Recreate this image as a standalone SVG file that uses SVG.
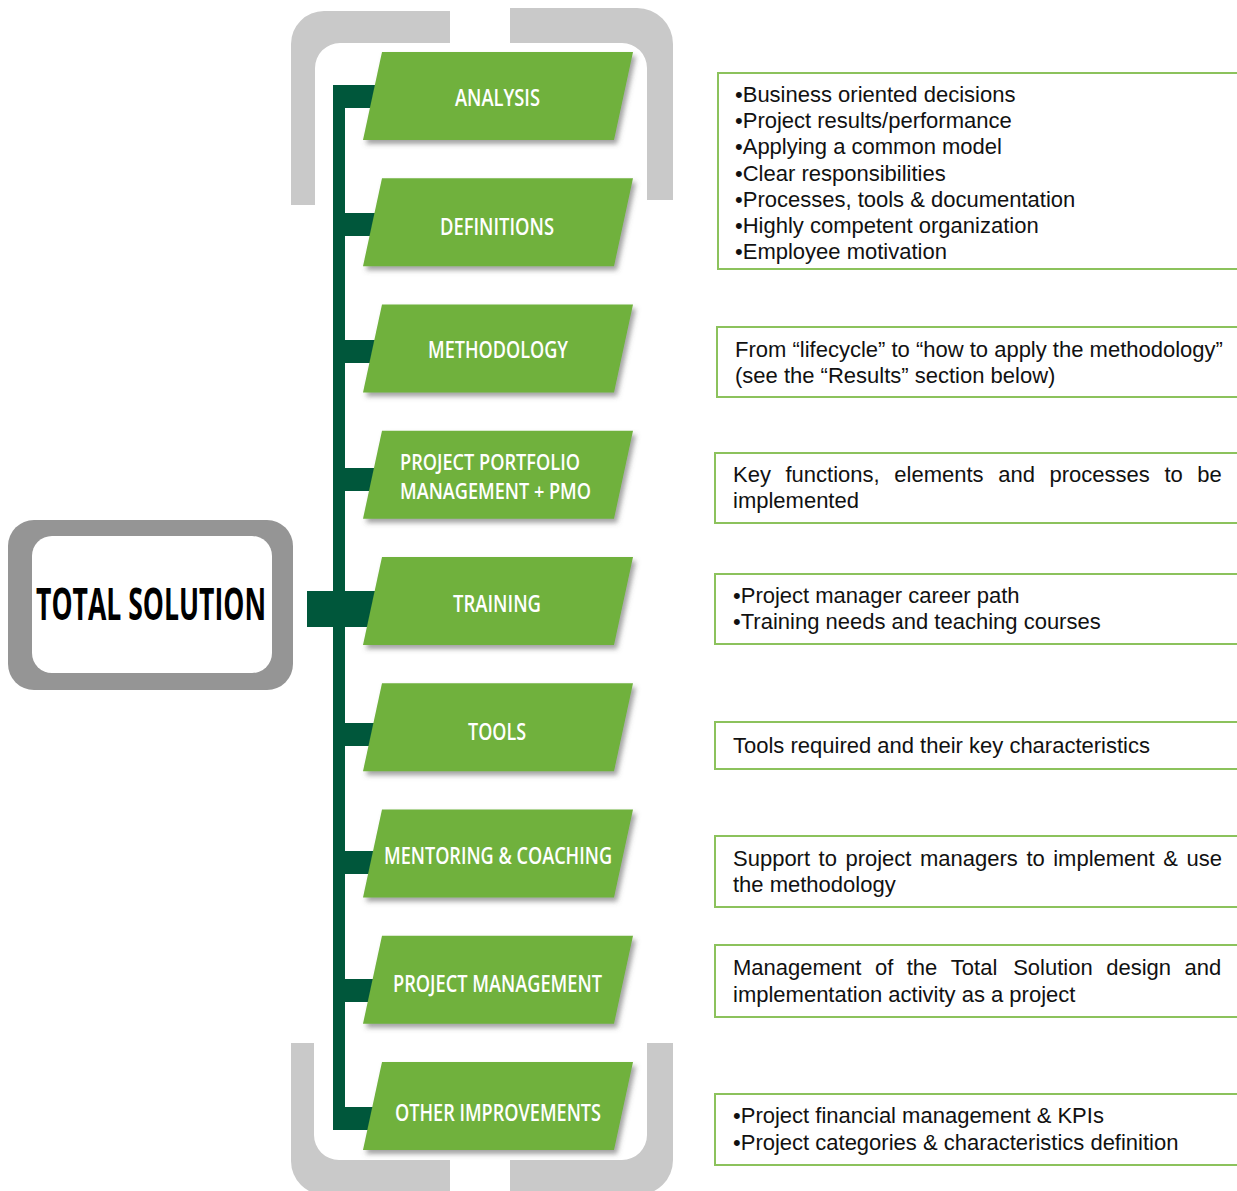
<svg xmlns="http://www.w3.org/2000/svg" width="1237" height="1191" viewBox="0 0 1237 1191">
  <style>
    .bracket { fill: #c9c9c9; }
    .stage { fill: #6fb13c; filter: url(#shade); }
    .stage-label { font-family: "Open Sans", "DejaVu Sans", sans-serif; font-weight: 600; font-size: 24px; fill: #ffffff; }
    .stage-label.small { font-size: 21px; }
    .link { fill: #00573b; }
    .note { fill: #ffffff; stroke: #8cc25c; stroke-width: 2; }
    .note-text { font-family: "Liberation Sans", Arial, sans-serif; font-size: 22px; fill: #111111; }
    .root-frame { fill: #959595; }
    .root-inner { fill: #ffffff; }
    .root-label { font-family: "Open Sans", "DejaVu Sans", sans-serif; font-weight: 700; font-size: 44px; fill: #000000; }
  </style>
  <defs>
    <filter id="shade" x="-10%" y="-20%" width="125%" height="150%">
      <feDropShadow dx="3" dy="4" stdDeviation="2.5" flood-color="#555555" flood-opacity="0.55"/>
    </filter>
    <!-- one parallelogram stage, 88 tall, skewed 19px -->
    <path id="stage-shape" d="M382 0 H633 L614 88 H363 Z"/>
  </defs>

  <rect width="1237" height="1191" fill="#ffffff"/>

  <!-- grey brackets framing the stage column -->
  <g id="frame">
    <path class="bracket" d="M291 205 V44 A33 33 0 0 1 324 11 H450 V43 H340 A25 25 0 0 0 315 68 V205 Z"/>
    <path class="bracket" d="M510 8 H637 A36 36 0 0 1 673 44 V200 H647 V68 A25 25 0 0 0 622 43 H510 Z"/>
    <path class="bracket" d="M291 1043 H314 V1135 A25 25 0 0 0 339 1160 H450 V1195 H325 A34 34 0 0 1 291 1161 Z"/>
    <path class="bracket" d="M647 1043 H673 V1160 A35 35 0 0 1 638 1195 H510 V1160 H622 A25 25 0 0 0 647 1135 Z"/>
  </g>

  <!-- spine and branch tabs -->
  <g id="connectors">
    <rect class="link" x="333" y="85" width="12" height="1045"/>
    <rect class="link" x="333" y="85" width="42" height="23"/>
    <rect class="link" x="333" y="213" width="42" height="23"/>
    <rect class="link" x="333" y="340" width="42" height="23"/>
    <rect class="link" x="333" y="468" width="42" height="23"/>
    <rect class="link" x="307" y="591" width="68" height="36"/>
    <rect class="link" x="333" y="723" width="42" height="23"/>
    <rect class="link" x="333" y="851" width="42" height="23"/>
    <rect class="link" x="333" y="979" width="42" height="23"/>
    <rect class="link" x="333" y="1107" width="42" height="23"/>
  </g>

  <!-- root node -->
  <g id="total-solution">
    <rect class="root-frame" x="8" y="520" width="285" height="170" rx="26"/>
    <rect class="root-inner" x="32" y="536" width="240" height="137" rx="20"/>
    <text class="root-label" x="36" y="620" textLength="230" lengthAdjust="spacingAndGlyphs">TOTAL SOLUTION</text>
  </g>

  <!-- stages -->
  <g id="analysis">
    <use href="#stage-shape" class="stage" y="52"/>
    <text class="stage-label" x="455" y="105.5" textLength="85" lengthAdjust="spacingAndGlyphs">ANALYSIS</text>
  </g>
  <g id="definitions">
    <use href="#stage-shape" class="stage" y="178.25"/>
    <text class="stage-label" x="440" y="234.5" textLength="114" lengthAdjust="spacingAndGlyphs">DEFINITIONS</text>
  </g>
  <g id="methodology">
    <use href="#stage-shape" class="stage" y="304.5"/>
    <text class="stage-label" x="428" y="357.5" textLength="140" lengthAdjust="spacingAndGlyphs">METHODOLOGY</text>
  </g>
  <g id="portfolio-pmo">
    <use href="#stage-shape" class="stage" y="430.75"/>
    <text class="stage-label small" x="400" y="470" textLength="180" lengthAdjust="spacingAndGlyphs">PROJECT PORTFOLIO</text>
    <text class="stage-label small" x="400" y="499" textLength="191" lengthAdjust="spacingAndGlyphs">MANAGEMENT + PMO</text>
  </g>
  <g id="training">
    <use href="#stage-shape" class="stage" y="557"/>
    <text class="stage-label" x="453" y="611.5" textLength="88" lengthAdjust="spacingAndGlyphs">TRAINING</text>
  </g>
  <g id="tools">
    <use href="#stage-shape" class="stage" y="683.25"/>
    <text class="stage-label" x="468" y="739.5" textLength="58" lengthAdjust="spacingAndGlyphs">TOOLS</text>
  </g>
  <g id="mentoring-coaching">
    <use href="#stage-shape" class="stage" y="809.5"/>
    <text class="stage-label" x="384" y="863.5" textLength="228" lengthAdjust="spacingAndGlyphs">MENTORING &amp; COACHING</text>
  </g>
  <g id="project-management">
    <use href="#stage-shape" class="stage" y="935.75"/>
    <text class="stage-label" x="393" y="991.5" textLength="209" lengthAdjust="spacingAndGlyphs">PROJECT MANAGEMENT</text>
  </g>
  <g id="other-improvements">
    <use href="#stage-shape" class="stage" y="1062"/>
    <text class="stage-label" x="395" y="1120.5" textLength="206" lengthAdjust="spacingAndGlyphs">OTHER IMPROVEMENTS</text>
  </g>

  <!-- description notes -->
  <g id="note-analysis">
    <rect class="note" x="718" y="73" width="530" height="196"/>
    <text class="note-text" x="735" y="102">•Business oriented decisions</text>
    <text class="note-text" x="735" y="128.2">•Project results/performance</text>
    <text class="note-text" x="735" y="154.4">•Applying a common model</text>
    <text class="note-text" x="735" y="180.6">•Clear responsibilities</text>
    <text class="note-text" x="735" y="206.8">•Processes, tools &amp; documentation</text>
    <text class="note-text" x="735" y="233">•Highly competent organization</text>
    <text class="note-text" x="735" y="259.2">•Employee motivation</text>
  </g>
  <g id="note-methodology">
    <rect class="note" x="717" y="327" width="530" height="70"/>
    <text class="note-text" x="735" y="357">From “lifecycle” to “how to apply the methodology”</text>
    <text class="note-text" x="735" y="383">(see the “Results” section below)</text>
  </g>
  <g id="note-portfolio">
    <rect class="note" x="715" y="453" width="530" height="70"/>
    <text class="note-text" y="482"><tspan x="733">Key</tspan><tspan x="785.5">functions,</tspan><tspan x="894.3">elements</tspan><tspan x="998.2">and</tspan><tspan x="1049.5">processes</tspan><tspan x="1164.4">to</tspan><tspan x="1197.3">be</tspan></text>
    <text class="note-text" x="733" y="508">implemented</text>
  </g>
  <g id="note-training">
    <rect class="note" x="715" y="574" width="530" height="70"/>
    <text class="note-text" x="733" y="603">•Project manager career path</text>
    <text class="note-text" x="733" y="629">•Training needs and teaching courses</text>
  </g>
  <g id="note-tools">
    <rect class="note" x="715" y="722" width="530" height="47"/>
    <text class="note-text" x="733" y="753">Tools required and their key characteristics</text>
  </g>
  <g id="note-mentoring">
    <rect class="note" x="715" y="836" width="530" height="71"/>
    <text class="note-text" y="866"><tspan x="733">Support</tspan><tspan x="818.6">to</tspan><tspan x="845.4">project</tspan><tspan x="920">managers</tspan><tspan x="1026.4">to</tspan><tspan x="1053.2">implement</tspan><tspan x="1163.3">&amp;</tspan><tspan x="1186.5">use</tspan></text>
    <text class="note-text" x="733" y="892">the methodology</text>
  </g>
  <g id="note-project-management">
    <rect class="note" x="715" y="945" width="530" height="72"/>
    <text class="note-text" y="975"><tspan x="733">Management</tspan><tspan x="874.9">of</tspan><tspan x="906.7">the</tspan><tspan x="950.8">Total</tspan><tspan x="1013.2">Solution</tspan><tspan x="1106.2">design</tspan><tspan x="1184.5">and</tspan></text>
    <text class="note-text" x="733" y="1002">implementation activity as a project</text>
  </g>
  <g id="note-other">
    <rect class="note" x="715" y="1094" width="530" height="71"/>
    <text class="note-text" x="733" y="1123">•Project financial management &amp; KPIs</text>
    <text class="note-text" x="733" y="1150">•Project categories &amp; characteristics definition</text>
  </g>
</svg>
